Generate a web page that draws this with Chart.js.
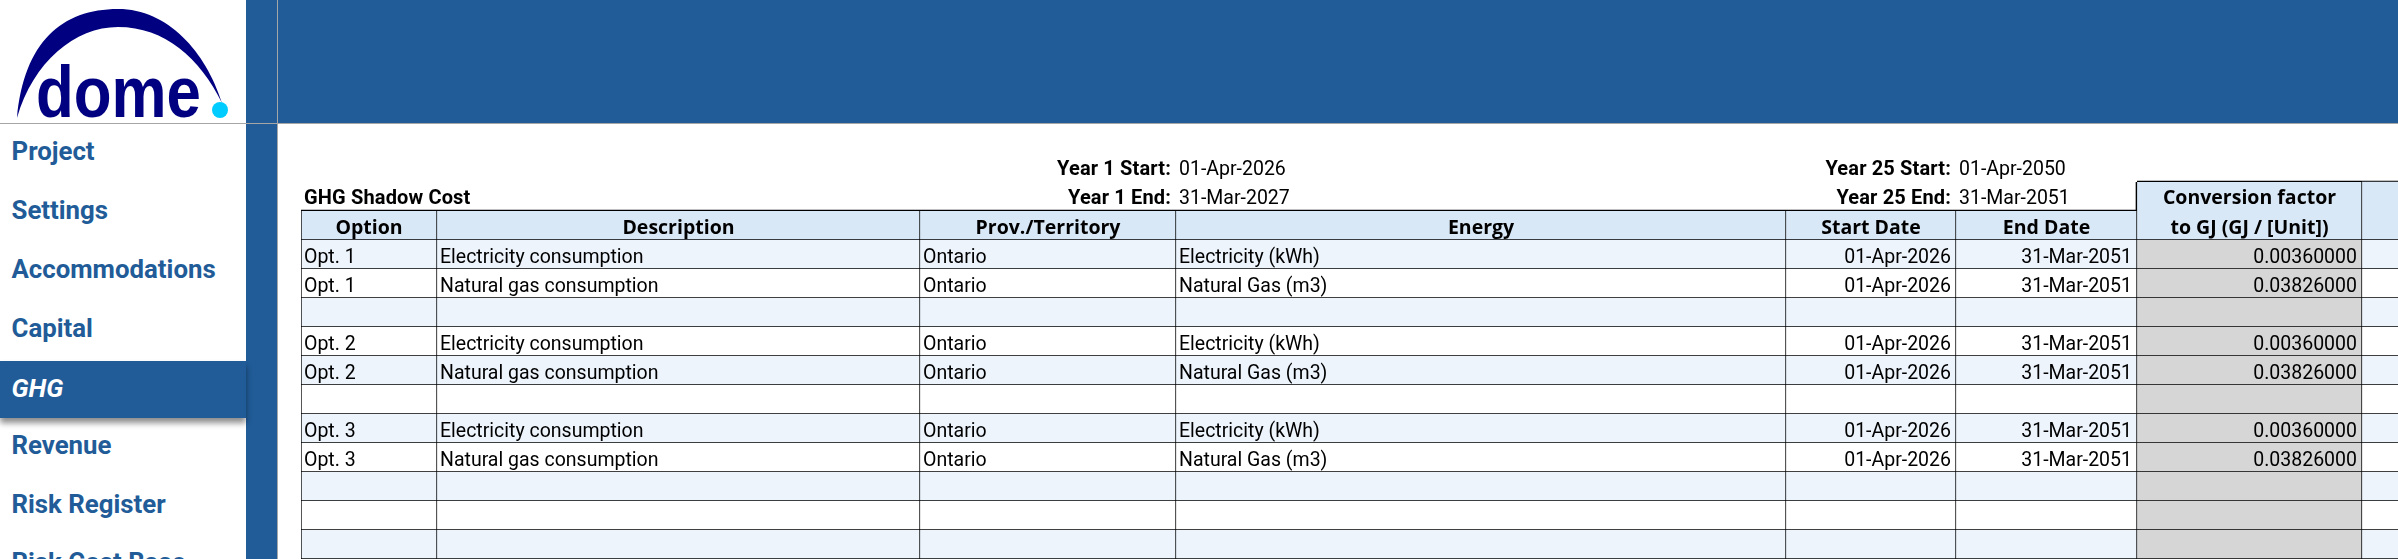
<!DOCTYPE html>
<html>
<head>
<meta charset="utf-8">
<title>GHG Shadow Cost</title>
<script src="https://cdn.jsdelivr.net/npm/chart.js@4"></script>
<style>
  html, body { margin: 0; padding: 0; width: 2398px; height: 559px; overflow: hidden; background: #fff; }
  body { position: relative; font-family: Roboto, sans-serif; }
  #topband { position: absolute; left: 246px; top: 0; width: 2152px; height: 123px; background: #215c98; }
  #sideband { position: absolute; left: 246px; top: 0; width: 31px; height: 559px; background: #215c98; }
  #vline { position: absolute; left: 277px; top: 0; width: 1px; height: 559px; background: #a6a6a6; }
  #hline { position: absolute; left: 0; top: 123px; width: 2398px; height: 1px; background: #a6a6a6; }
  #logo { position: absolute; left: 0; top: 0; }
  .nav { position: absolute; left: 0; width: 246px; height: 57px; line-height: 57px; padding-left: 11.5px; box-sizing: border-box;
         font-size: 25.8px; font-weight: 700; color: #215c98; white-space: nowrap; }
  .nav.active { background: #215c98; color: #fff; font-style: italic; line-height: 55px; box-shadow: 0 5px 6px rgba(0,0,0,.45); }
  #chart { position: absolute; left: 301px; top: 153px; }
</style>
</head>
<body>
<div id="topband"></div>
<div id="sideband"></div>
<div id="vline"></div>
<div id="hline"></div>
<svg id="logo" width="246" height="123" viewBox="0 0 246 123">
  <path d="M17 118 C24 42 62 9 118 9 C168 9 206 52 222 103 C200 58 165 27 118 27 C75 27 33 62 17 118 Z" fill="#000080"/>
  <text x="36" y="117" font-family="Liberation Sans" font-weight="700" font-size="72" fill="#000080" textLength="165" lengthAdjust="spacingAndGlyphs">dome</text>
  <circle cx="220" cy="110" r="8" fill="#00ccff"/>
</svg>
<canvas id="chart" width="2097" height="406"></canvas>

<script>
const navItems = ['Project', 'Settings', 'Accommodations', 'Capital', 'GHG', 'Revenue', 'Risk Register', 'Risk Cost Base'];
const activeNav = 'GHG';

const columnHeaders = ['Option', 'Description', 'Prov./Territory', 'Energy', 'Start Date', 'End Date', 'to GJ (GJ / [Unit])', ''];
const options = ['Opt. 1', 'Opt. 1', '', 'Opt. 2', 'Opt. 2', '', 'Opt. 3', 'Opt. 3', '', '', ''];
const descriptions = ['Electricity consumption', 'Natural gas consumption', '', 'Electricity consumption', 'Natural gas consumption', '', 'Electricity consumption', 'Natural gas consumption', '', '', ''];
const provinces = ['Ontario', 'Ontario', '', 'Ontario', 'Ontario', '', 'Ontario', 'Ontario', '', '', ''];
const energies = ['Electricity (kWh)', 'Natural Gas (m3)', '', 'Electricity (kWh)', 'Natural Gas (m3)', '', 'Electricity (kWh)', 'Natural Gas (m3)', '', '', ''];
const startDates = ['01-Apr-2026', '01-Apr-2026', '', '01-Apr-2026', '01-Apr-2026', '', '01-Apr-2026', '01-Apr-2026', '', '', ''];
const endDates = ['31-Mar-2051', '31-Mar-2051', '', '31-Mar-2051', '31-Mar-2051', '', '31-Mar-2051', '31-Mar-2051', '', '', ''];
const conversionFactors = [0.0036, 0.03826, null, 0.0036, 0.03826, null, 0.0036, 0.03826, null, null, null];
const blanks = options.map(() => '');

// two rows above the table: labels and dates sit in the cells either side of a column edge
const topStartRow = ['', '', 'Year 1 Start:', '01-Apr-2026', 'Year 25 Start:', '01-Apr-2050', '', ''];
const topEndRow = ['GHG Shadow Cost', '', 'Year 1 End:', '31-Mar-2027', 'Year 25 End:', '31-Mar-2051', 'Conversion factor', ''];

// pixel width of each sheet column, the bars stack up to these
const columnWidths = [136, 483, 256, 610, 170, 181, 225, 36];

const bodyColumns = [options, descriptions, provinces, energies, startDates, endDates,
  conversionFactors.map(v => v === null ? '' : v.toFixed(8)), blanks];
const bodyAlign = ['left', 'left', 'left', 'left', 'right', 'right', 'right', 'left'];
const topAlign = ['left', 'left', 'right', 'left', 'right', 'left', 'center', 'left'];

const HEADER_ROW = 2;
const FIRST_BODY_ROW = 3;
const rowCount = FIRST_BODY_ROW + options.length;
const rowLabels = Array.from({ length: rowCount }, (_, i) => 'row' + i);

const headerFill = '#d9e8f7';
const stripeFill = '#edf4fc';
const factorFill = '#d6d6d6';
const FACTOR_COL = 6;
const LAST_COL = 7;

function cellFill(row, col) {
  if (row < HEADER_ROW) {
    return row === 1 && col >= FACTOR_COL ? headerFill : 'rgba(0,0,0,0)';
  }
  if (row === HEADER_ROW) return headerFill;
  if (col === FACTOR_COL) return factorFill;
  return (row - FIRST_BODY_ROW) % 2 === 0 ? stripeFill : '#ffffff';
}

function cellBorder(row, col) {
  const edge = { top: 0, left: col === 0 && row >= HEADER_ROW ? 1 : 0, right: col === LAST_COL ? 0 : 1, bottom: 1 };
  if (row === 0) {
    edge.left = 0;
    edge.right = 0;
    edge.bottom = col >= FACTOR_COL ? 1 : 0;
  }
  if (row === 1) {
    edge.right = col >= 5 && col < LAST_COL ? 1 : 0;
    edge.bottom = col < FACTOR_COL ? 1 : 0;
  }
  return edge;
}

const datasets = columnWidths.map((width, col) => ({
  label: columnHeaders[col],
  data: rowLabels.map(() => width),
  backgroundColor: ctx => cellFill(ctx.dataIndex, col),
  borderColor: '#000000',
  borderWidth: ctx => cellBorder(ctx.dataIndex, col),
  borderSkipped: false,
  barPercentage: 1,
  categoryPercentage: 1
}));

function cellText(row, col) {
  if (row === 0) return topStartRow[col];
  if (row === 1) return topEndRow[col];
  if (row === HEADER_ROW) return columnHeaders[col];
  return bodyColumns[col][row - FIRST_BODY_ROW];
}

const REGULAR = '400 19.5px Roboto';
const TOP_BOLD = '700 20px Roboto';
const HEADER_BOLD = '700 19.5px "Open Sans"';

const cellTextPlugin = {
  id: 'cellText',
  afterDatasetsDraw(chart) {
    const ctx = chart.ctx;
    ctx.save();
    ctx.fillStyle = '#000000';
    ctx.textBaseline = 'alphabetic';
    chart.data.datasets.forEach((ds, col) => {
      chart.getDatasetMeta(col).data.forEach((bar, row) => {
        const text = cellText(row, col);
        if (!text) return;
        const right = bar.x;
        const left = bar.base;
        const bottom = bar.y + bar.height / 2;
        let font = REGULAR;
        let spacing = '0px';
        let align = bodyAlign[col];
        let drop = 6.5;
        if (row === HEADER_ROW) {
          font = HEADER_BOLD;
          align = 'center';
        } else if (row < HEADER_ROW) {
          // dates in the top rows are plain, their labels are bold
          align = topAlign[col];
          drop = 7.5;
          if (col === FACTOR_COL) {
            font = HEADER_BOLD;
          } else if (col !== 3 && col !== 5) {
            font = TOP_BOLD;
            spacing = '0.15px';
          }
        }
        ctx.font = font;
        ctx.letterSpacing = spacing;
        ctx.textAlign = align;
        let x = left + 3;
        if (align === 'right') x = right - 5;
        if (align === 'center') x = (left + right) / 2;
        ctx.fillText(text, x, bottom - drop);
      });
    });
    ctx.restore();
  }
};

new Chart(document.getElementById('chart').getContext('2d'), {
  type: 'bar',
  data: { labels: rowLabels, datasets: datasets },
  options: {
    indexAxis: 'y',
    responsive: false,
    animation: false,
    devicePixelRatio: 1,
    layout: { padding: 0 },
    plugins: { legend: { display: false }, tooltip: { enabled: false } },
    scales: {
      x: { stacked: true, min: 0, max: columnWidths.reduce((a, b) => a + b, 0), display: false },
      y: { stacked: true, display: false }
    }
  },
  plugins: [cellTextPlugin]
});

navItems.forEach((item, i) => {
  const el = document.createElement('div');
  const active = item === activeNav;
  el.className = active ? 'nav active' : 'nav';
  el.style.top = (123.4 + i * 58.7 + (active ? 2.6 : 0)) + 'px';
  el.textContent = item;
  document.body.appendChild(el);
});
</script>
</body>
</html>
